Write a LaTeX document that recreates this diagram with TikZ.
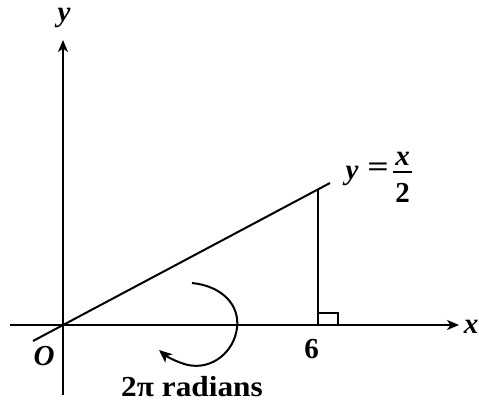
\documentclass[tikz,border=0pt]{standalone}
\usepackage{fontspec}
\usepackage{graphicx}
\setmainfont{Liberation Serif}
\usetikzlibrary{arrows.meta}
\begin{document}
\begin{tikzpicture}[x=1pt,y=-1pt,
  axis/.style={line width=2pt,-{Stealth[length=12pt,width=10pt,inset=3.5pt]}},
  ln/.style={line width=2pt},
  lbl/.style={font=\fontsize{29}{31}\selectfont\bfseries, inner sep=0pt, anchor=base}]
\useasboundingbox (0,0) rectangle (479,404);
\coordinate (O) at (63,325);
\coordinate (xs) at (10,325);
\coordinate (xe) at (459,325);
\coordinate (ys) at (63,395);
\coordinate (ye) at (63,40);
\coordinate (ls) at (33,341);
\coordinate (le) at (330,183);
\coordinate (ft) at (318,189.5);
\coordinate (fb) at (318,325);
\coordinate (bl) at (393,172);
\coordinate (br) at (412,172);
\draw[axis] (xs) -- (xe);
\draw[axis] (ys) -- (ye);
\draw[ln] (ls) -- (le);
\draw[ln] (ft) -- (fb);
\draw[line width=1.2pt] (318,313) -- (338,313) -- (338,325);
\draw[line width=2pt,-{Stealth[length=13pt,width=11pt,inset=3.5pt]}]
  (192,283) .. controls (222,286) and (240,305) .. (237,328)
  .. controls (234,352) and (212,370) .. (188,365)
  .. controls (176,362) and (166,356) .. (159,350);
\node[lbl] (ylab) at (64,22) {\itshape y};
\node[lbl] (xlab) at (471,333) {\itshape x};
\node[lbl] (olab) at (44,365) {\itshape O};
\node[lbl] (six) at (311.5,358) {6};
\node[lbl] (rad) at (192,396) {\scalebox{1.08}[1]{2π radians}};
\node[lbl] (eqy) at (352,179) {\itshape y};
\node[lbl,anchor=center] (eqs) at (378,170) {\scalebox{1.3}[1]{=}};
\node[lbl] (num) at (402.5,165) {\itshape x};
\draw[line width=2pt] (bl) -- (br);
\node[lbl] (den) at (402.5,202) {2};
\end{tikzpicture}
\end{document}
